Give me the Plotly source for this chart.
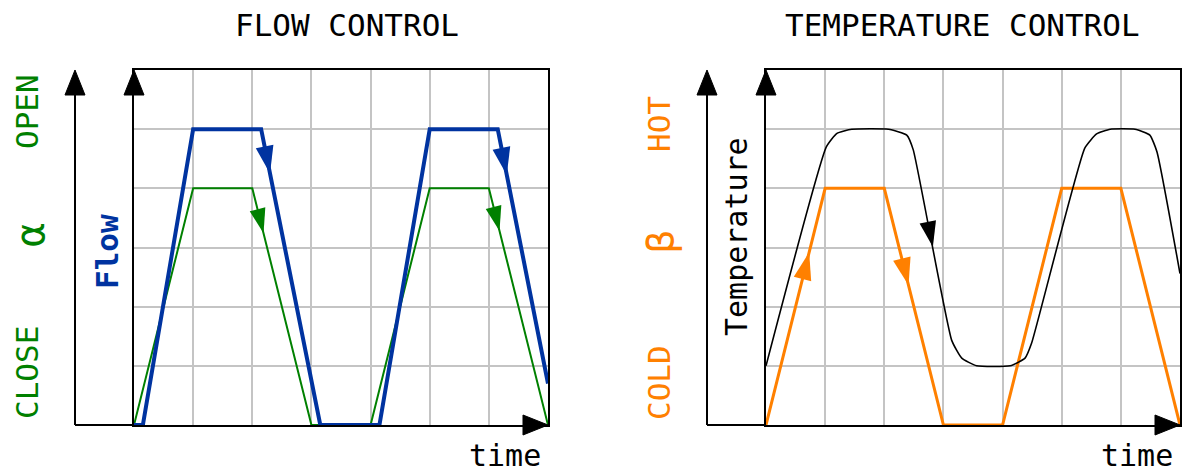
import plotly.graph_objects as go

W, H = 1182, 473

# flow control panel: valve position alpha and resulting flow
t_alpha = [0, 1, 2, 3, 4, 5, 6, 7]
alpha = [0, 4, 4, 0, 0, 4, 4, 0]
t_flow = [0, 0.15, 1, 2.15, 3.15, 4.15, 5, 6.15, 7]
flow = [0, 0, 5, 5, 0, 0, 5, 5, 0.7]

# temperature control panel: mixing position beta and temperature
t_beta = [0, 1, 2, 3, 4, 5, 6, 7]
beta = [0, 4, 4, 0, 0, 4, 4, 0]
t_temp = [0, 1.02, 1.20, 1.45, 2.07, 2.38, 2.49, 3.14, 3.31, 3.56,
          4.13, 4.38, 4.49, 5.39, 5.59, 5.82, 6.24, 6.49, 6.61, 7]
temp = [1, 4.70, 4.93, 5, 5, 4.90, 4.65, 1.43, 1.13, 1,
        1, 1.13, 1.38, 4.68, 4.92, 5, 5, 4.90, 4.62, 2.56]

BLUE = "#0033a0"
GREEN = "#008000"
ORANGE = "#ff8000"
FONT = "DejaVu Sans Mono"


def px(x):
    return x / W


def py(y):
    return 1 - y / H


def arrow_trace(xs, ys, seg, frac, color, size, xa, ya):
    x0, y0, x1, y1 = xs[seg], ys[seg], xs[seg + 1], ys[seg + 1]
    fr = [frac - 0.05, frac]
    return go.Scatter(
        x=[x0 + (x1 - x0) * f for f in fr],
        y=[y0 + (y1 - y0) * f for f in fr],
        mode="markers",
        marker=dict(symbol="arrow", size=size, color=color, angleref="previous"),
        xaxis=xa, yaxis=ya, cliponaxis=False, hoverinfo="skip",
    )


fig = go.Figure()

fig.add_trace(go.Scatter(x=t_alpha, y=alpha, mode="lines", line=dict(color=GREEN, width=2),
                         xaxis="x", yaxis="y", cliponaxis=False))
fig.add_trace(go.Scatter(x=t_flow, y=flow, mode="lines", line=dict(color=BLUE, width=4),
                         xaxis="x", yaxis="y", cliponaxis=False))
fig.add_trace(go.Scatter(x=t_beta, y=beta, mode="lines", line=dict(color=ORANGE, width=3),
                         xaxis="x2", yaxis="y2", cliponaxis=False))
fig.add_trace(go.Scatter(x=t_temp, y=temp, mode="lines",
                         line=dict(color="black", width=1.6, shape="spline", smoothing=0.45),
                         xaxis="x2", yaxis="y2", cliponaxis=False))

fig.add_trace(arrow_trace(t_flow, flow, 3, 0.15, BLUE, 29, "x", "y"))
fig.add_trace(arrow_trace(t_flow, flow, 7, 0.18, BLUE, 29, "x", "y"))
fig.add_trace(arrow_trace(t_alpha, alpha, 2, 0.19, GREEN, 26, "x", "y"))
fig.add_trace(arrow_trace(t_alpha, alpha, 6, 0.18, GREEN, 26, "x", "y"))
fig.add_trace(arrow_trace(t_beta, beta, 0, 0.73, ORANGE, 29, "x2", "y2"))
fig.add_trace(arrow_trace(t_beta, beta, 2, 0.41, ORANGE, 29, "x2", "y2"))
fig.add_trace(arrow_trace(t_temp, temp, 6, 0.51, "black", 27, "x2", "y2"))

axis_style = dict(
    dtick=1, showgrid=True, gridcolor="#c4c4c4", gridwidth=1.5,
    showticklabels=False, ticks="", zeroline=False,
    showline=True, mirror=True, linecolor="black", linewidth=2,
    layer="below traces", fixedrange=True,
)

fig.update_layout(
    width=W, height=H,
    margin=dict(l=0, r=0, t=0, b=0),
    paper_bgcolor="white", plot_bgcolor="white",
    showlegend=False,
    font=dict(family=FONT, color="black"),
    xaxis=dict(domain=[px(134), px(548)], range=[0, 7], anchor="y", **axis_style),
    yaxis=dict(domain=[py(425), py(70)], range=[0, 6], anchor="x", **axis_style),
    xaxis2=dict(domain=[px(766), px(1180)], range=[0, 7], anchor="y2", **axis_style),
    yaxis2=dict(domain=[py(425), py(70)], range=[0, 6], anchor="x2", **axis_style),
)


def seg(x0, y0, x1, y1):
    return dict(type="line", xref="paper", yref="paper",
                x0=px(x0), y0=py(y0), x1=px(x1), y1=py(y1),
                line=dict(color="black", width=2))


def head(tx, ty, d):
    if d == "up":
        pts = [(tx, ty), (tx - 10, ty + 25), (tx + 10, ty + 25)]
    else:
        pts = [(tx, ty), (tx - 25, ty - 10), (tx - 25, ty + 10)]
    path = "M " + " L ".join(f"{px(a):.5f},{py(b):.5f}" for a, b in pts) + " Z"
    return dict(type="path", xref="paper", yref="paper", path=path,
                fillcolor="black", line=dict(color="black", width=1))


shapes = []
for ox, ix, right in [(75, 134, 548), (707, 766, 1180)]:
    shapes += [
        seg(ox, 425, ix, 425),
        seg(ox, 425, ox, 90),
        head(ox, 70, "up"),
        head(ix, 70, "up"),
        head(right, 425, "right"),
    ]
fig.update_layout(shapes=shapes)

labels = [
    ("FLOW CONTROL", 346.5, 25, "black", 31, 0),
    ("TEMPERATURE CONTROL", 962, 25, "black", 31, 0),
    ("OPEN", 27, 112, GREEN, 31, -90),
    ("α", 30, 235, GREEN, 40, -90),
    ("CLOSE", 27, 373, GREEN, 31, -90),
    ("<b>Flow</b>", 107, 252, BLUE, 31, -90),
    ("HOT", 659, 124, ORANGE, 31, -90),
    ("β", 661, 242, ORANGE, 38, -90),
    ("COLD", 659, 383, ORANGE, 31, -90),
    ("Temperature", 736, 237, "black", 30, -90),
    ("time", 505, 455, "black", 30, 0),
    ("time", 1137, 455, "black", 30, 0),
]
fig.update_layout(annotations=[
    dict(text=t, x=px(x), y=py(y), xref="paper", yref="paper",
         xanchor="center", yanchor="middle", showarrow=False, textangle=a,
         font=dict(family=FONT, size=s, color=c))
    for t, x, y, c, s, a in labels
])

# the page body keeps its default margin otherwise, which would shift the figure
fig.write_html("out.html", config={"displayModeBar": False},
               post_script="document.body.style.margin = '0';")
